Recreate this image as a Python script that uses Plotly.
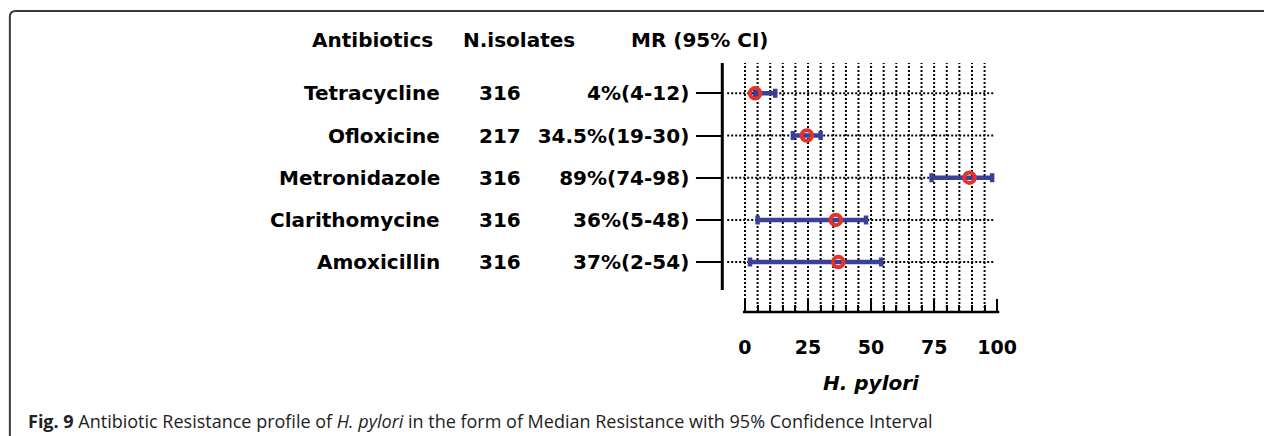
import plotly.graph_objects as go

# ---------------- data ----------------
antibiotics = ["Tetracycline", "Ofloxicine", "Metronidazole", "Clarithomycine", "Amoxicillin"]
n_isolates = ["316", "217", "316", "316", "316"]
mr_labels = ["4%(4-12)", "34.5%(19-30)", "89%(74-98)", "36%(5-48)", "37%(2-54)"]
mr_plotted = [4, 24.5, 89, 36, 37]
ci_low = [4, 19, 74, 5, 2]
ci_high = [12, 30, 98, 48, 54]
x_major_ticks = [0, 25, 50, 75, 100]
x_minor_ticks = [5, 10, 15, 20, 30, 35, 40, 45, 55, 60, 65, 70, 80, 85, 90, 95]
x_grid = [0, 5, 10, 15, 20, 25, 30, 35, 40, 45, 50, 55, 60, 65, 70, 75, 80, 85, 90, 95]
headers = ["Antibiotics", "N.isolates", "MR (95% CI)"]

# ---------------- geometry ----------------
W, H = 1281, 436
def px(p):
    return p / W
def py(p):
    return 1 - p / H

BLUE = "#3A3F99"
RED = "#E5332A"
FONT = "DejaVu Sans"

rows = list(range(len(antibiotics)))
row_top_px, row_step = 93.3, 42.2
plot_top, plot_bot = 63, 312
y_top = (plot_top - row_top_px) / row_step
y_bot = (plot_bot - row_top_px) / row_step
y_axis_end = (290 - row_top_px) / row_step

x0_px, slope = 755, 2.556
dom_left, dom_right = 732, 1013
x_lo = (dom_left - x0_px) / slope
x_hi = (dom_right - x0_px) / slope
x_axis_start = (753 - x0_px) / slope
hgrid_start = (737 - x0_px) / slope
hgrid_end = (1008 - x0_px) / slope

fig = go.Figure()
fig.add_trace(go.Scatter(
    x=mr_plotted, y=rows, mode="markers",
    marker=dict(symbol="circle-open", size=10.5, color=RED, line=dict(width=4, color=RED)),
    error_x=dict(type="data", symmetric=False,
                 array=[h - m for h, m in zip(ci_high, mr_plotted)],
                 arrayminus=[m - l for m, l in zip(mr_plotted, ci_low)],
                 color=BLUE, thickness=4.5, width=4.5),
    showlegend=False, hoverinfo="skip",
))

y_dom = [py(plot_bot), py(plot_top)]

fig.update_layout(
    width=W, height=H,
    margin=dict(l=0, r=0, t=0, b=0),
    paper_bgcolor="white", plot_bgcolor="white",
    font=dict(family=FONT, color="black"),
    xaxis=dict(
        domain=[px(dom_left), px(dom_right)], range=[x_lo, x_hi],
        showgrid=False, zeroline=False, showline=False,
        tickmode="array", tickvals=x_major_ticks, ticktext=[str(v) for v in x_major_ticks],
        ticks="inside", ticklen=13, tickwidth=2, tickcolor="black",
        tickfont=dict(family=FONT, size=19, color="black", weight="bold"),
        ticklabelstandoff=22,
        minor=dict(tickmode="array", tickvals=x_minor_ticks, ticks="inside",
                   ticklen=7, tickwidth=2, tickcolor="black", showgrid=False),
        fixedrange=True,
    ),
    yaxis=dict(
        domain=y_dom, range=[y_bot, y_top],
        showgrid=False, zeroline=False, showline=False,
        tickmode="array", tickvals=rows, ticktext=mr_labels,
        ticks="outside", ticklen=25, tickwidth=2, tickcolor="black",
        tickfont=dict(family=FONT, size=20, color="black", weight="bold"),
        ticklabelstandoff=3,
        fixedrange=True,
    ),
)

# vertical dotted grid
for v in x_grid:
    fig.add_shape(type="line", xref="x", yref="paper", x0=v, x1=v, y0=y_dom[0], y1=y_dom[1],
                  line=dict(color="black", width=2, dash="2px,2px"), layer="below")
# horizontal dotted grid at each row
for r in rows:
    fig.add_shape(type="line", xref="x", yref="y", x0=hgrid_start, x1=hgrid_end, y0=r, y1=r,
                  line=dict(color="black", width=2, dash="2px,2px"), layer="below")

# axis lines
fig.add_shape(type="line", xref="x", yref="paper", x0=x_axis_start, x1=x_hi, y0=y_dom[0], y1=y_dom[0],
              line=dict(color="black", width=2.5))
fig.add_shape(type="line", xref="paper", yref="y", x0=px(dom_left), x1=px(dom_left), y0=y_top, y1=y_axis_end,
              line=dict(color="black", width=3))

# frame
frame = (f"M {px(10)},{py(436)} L {px(10)},{py(17)} Q {px(10)},{py(11)} {px(16)},{py(11)} "
         f"L {px(1281)},{py(11)}")
fig.add_shape(type="path", xref="paper", yref="paper", path=frame,
              line=dict(color="#3a3a3a", width=2))

bold = dict(family=FONT, size=20, color="black", weight="bold")

# headers
for txt, cx in zip(headers, [378, 526, 709]):
    fig.add_annotation(text=txt, xref="paper", yref="paper", x=px(cx), y=py(40),
                       xanchor="center", yanchor="middle", showarrow=False, font=bold)

# row labels
for i, (name, n) in enumerate(zip(antibiotics, n_isolates)):
    fig.add_annotation(text=name, xref="paper", yref="y", x=px(448), y=i,
                       xanchor="right", yanchor="middle", showarrow=False, font=bold)
    fig.add_annotation(text=n, xref="paper", yref="y", x=px(483), y=i,
                       xanchor="left", yanchor="middle", showarrow=False, font=bold)

# x axis title
fig.add_annotation(text="<i>H. pylori</i>", xref="paper", yref="paper", x=px(883), y=py(383),
                   xanchor="center", yanchor="middle", showarrow=False, font=bold)

# caption
fig.add_annotation(text="<b>Fig. 9</b> Antibiotic Resistance profile of <i>H. pylori</i> in the form of Median Resistance with 95% Confidence Interval",
                   xref="paper", yref="paper", x=px(26), y=py(421), xanchor="left", yanchor="middle",
                   showarrow=False, font=dict(family="Open Sans", size=18, color="#222222"))

fig.write_html("out.html")
